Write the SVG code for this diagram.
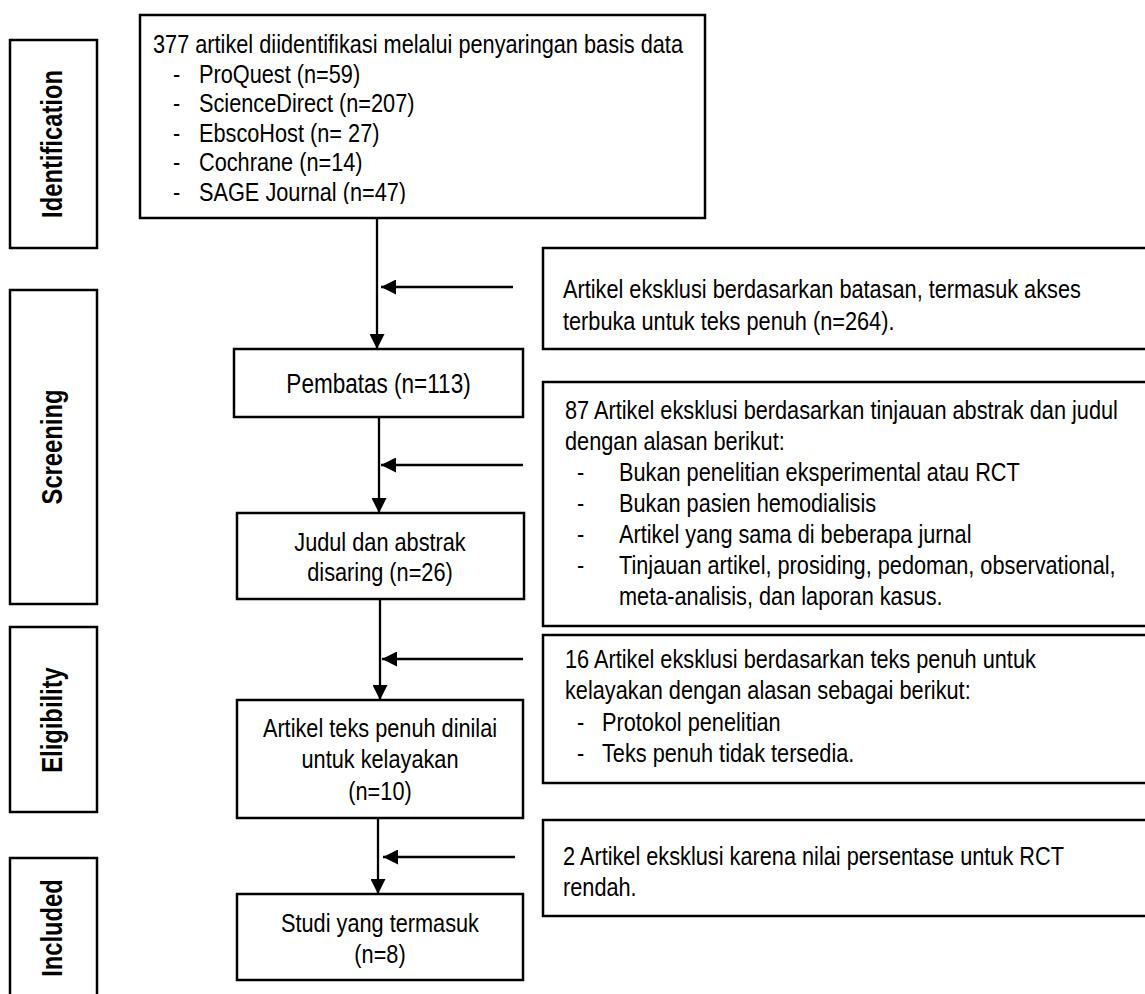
<svg xmlns="http://www.w3.org/2000/svg" width="1145" height="994" viewBox="0 0 1145 994">
<style>
.box{fill:#fff;stroke:#000;stroke-width:2.5}
.ln{stroke:#000;stroke-width:2.3;fill:none}
.t{font-family:"Liberation Sans",Arial,sans-serif;font-size:26.5px;fill:#000}
.c{text-anchor:middle}
.side{font-family:"Liberation Sans",Arial,sans-serif;font-size:29px;font-weight:bold;fill:#000;text-anchor:middle}
</style>
<defs>
<marker id="ah" markerUnits="userSpaceOnUse" markerWidth="15" markerHeight="15" refX="15" refY="7.5" orient="auto">
<path d="M0,0 L15,7.5 L0,15 z" fill="#000"/>
</marker>
<clipPath id="mclip"><rect x="140" y="15" width="570" height="189"/></clipPath>
</defs>
<rect width="1145" height="994" fill="#fff"/>

<g id="phase-identification">
<rect class="box" x="10" y="40" width="87" height="208"/>
<text class="side" transform="translate(62,144) rotate(-90) scale(0.82,1)">Identification</text>
</g>
<g id="phase-screening">
<rect class="box" x="10" y="290" width="87" height="314"/>
<text class="side" transform="translate(62,447) rotate(-90) scale(0.82,1)">Screening</text>
</g>
<g id="phase-eligibility">
<rect class="box" x="10" y="627" width="87" height="185"/>
<text class="side" transform="translate(62,720) rotate(-90) scale(0.82,1)">Eligibility</text>
</g>
<g id="phase-included">
<rect class="box" x="10" y="858" width="87" height="150"/>
<text class="side" transform="translate(62,928) rotate(-90) scale(0.82,1)">Included</text>
</g>

<g id="node-identified">
<rect class="box" x="140" y="15" width="565" height="203"/>
<g clip-path="url(#mclip)">
<text class="t" transform="matrix(0.82 0 0 1 153 53)">377 artikel diidentifikasi melalui penyaringan basis data</text>
<text class="t" transform="matrix(0.82 0 0 1 173 83)">-</text><text class="t" transform="matrix(0.82 0 0 1 199 83)">ProQuest (n=59)</text>
<text class="t" transform="matrix(0.82 0 0 1 173 112)">-</text><text class="t" transform="matrix(0.82 0 0 1 199 112)">ScienceDirect (n=207)</text>
<text class="t" transform="matrix(0.82 0 0 1 173 142)">-</text><text class="t" transform="matrix(0.82 0 0 1 199 142)">EbscoHost (n= 27)</text>
<text class="t" transform="matrix(0.82 0 0 1 173 171)">-</text><text class="t" transform="matrix(0.82 0 0 1 199 171)">Cochrane (n=14)</text>
<text class="t" transform="matrix(0.82 0 0 1 173 201)">-</text><text class="t" transform="matrix(0.82 0 0 1 199 201)">SAGE Journal (n=47)</text>
</g>
</g>

<g id="node-excluded-1">
<rect class="box" x="543" y="248" width="620" height="101"/>
<text class="t" transform="matrix(0.82 0 0 1 563 298)">Artikel eksklusi berdasarkan batasan, termasuk akses</text>
<text class="t" transform="matrix(0.82 0 0 1 563 330)">terbuka untuk teks penuh (n=264).</text>
</g>

<g id="node-pembatas">
<rect class="box" x="234" y="349" width="289" height="68"/>
<text class="t c" transform="matrix(0.82 0 0 1 378.5 393)" style="font-size:27.5px">Pembatas (n=113)</text>
</g>

<g id="node-excluded-2">
<rect class="box" x="543" y="382" width="620" height="244"/>
<text class="t" transform="matrix(0.82 0 0 1 565 419)">87 Artikel eksklusi berdasarkan tinjauan abstrak dan judul</text>
<text class="t" transform="matrix(0.82 0 0 1 565 450)">dengan alasan berikut:</text>
<text class="t" transform="matrix(0.82 0 0 1 577 481)">-</text><text class="t" transform="matrix(0.82 0 0 1 619 481)">Bukan penelitian eksperimental atau RCT</text>
<text class="t" transform="matrix(0.82 0 0 1 577 512)">-</text><text class="t" transform="matrix(0.82 0 0 1 619 512)">Bukan pasien hemodialisis</text>
<text class="t" transform="matrix(0.82 0 0 1 577 543)">-</text><text class="t" transform="matrix(0.82 0 0 1 619 543)">Artikel yang sama di beberapa jurnal</text>
<text class="t" transform="matrix(0.82 0 0 1 577 574)">-</text><text class="t" transform="matrix(0.82 0 0 1 619 574)">Tinjauan artikel, prosiding, pedoman, observational,</text>
<text class="t" transform="matrix(0.82 0 0 1 619 605)">meta-analisis, dan laporan kasus.</text>
</g>

<g id="node-screened">
<rect class="box" x="237" y="513" width="287" height="86"/>
<text class="t c" transform="matrix(0.82 0 0 1 380 551)">Judul dan abstrak</text>
<text class="t c" transform="matrix(0.82 0 0 1 380 581)">disaring (n=26)</text>
</g>

<g id="node-excluded-3">
<rect class="box" x="543" y="635" width="620" height="148"/>
<text class="t" transform="matrix(0.82 0 0 1 565 668)">16 Artikel eksklusi berdasarkan teks penuh untuk</text>
<text class="t" transform="matrix(0.82 0 0 1 565 699)">kelayakan dengan alasan sebagai berikut:</text>
<text class="t" transform="matrix(0.82 0 0 1 577 731)">-</text><text class="t" transform="matrix(0.82 0 0 1 602 731)">Protokol penelitian</text>
<text class="t" transform="matrix(0.82 0 0 1 577 762)">-</text><text class="t" transform="matrix(0.82 0 0 1 602 762)">Teks penuh tidak tersedia.</text>
</g>

<g id="node-fulltext">
<rect class="box" x="237" y="700" width="286" height="118"/>
<text class="t c" transform="matrix(0.82 0 0 1 380 737)">Artikel teks penuh dinilai</text>
<text class="t c" transform="matrix(0.82 0 0 1 380 768)">untuk kelayakan</text>
<text class="t c" transform="matrix(0.82 0 0 1 380 800)">(n=10)</text>
</g>

<g id="node-excluded-4">
<rect class="box" x="543" y="820" width="620" height="96"/>
<text class="t" transform="matrix(0.82 0 0 1 563 865)">2 Artikel eksklusi karena nilai persentase untuk RCT</text>
<text class="t" transform="matrix(0.82 0 0 1 563 896)">rendah.</text>
</g>

<g id="node-included">
<rect class="box" x="237" y="894" width="286" height="86"/>
<text class="t c" transform="matrix(0.82 0 0 1 380 932)">Studi yang termasuk</text>
<text class="t c" transform="matrix(0.82 0 0 1 380 963)">(n=8)</text>
</g>

<g id="connectors">
<line class="ln" x1="377" y1="218" x2="377" y2="349" marker-end="url(#ah)"/>
<line class="ln" x1="513" y1="287" x2="381" y2="287" marker-end="url(#ah)"/>
<line class="ln" x1="379" y1="417" x2="379" y2="513" marker-end="url(#ah)"/>
<line class="ln" x1="523" y1="465" x2="381" y2="465" marker-end="url(#ah)"/>
<line class="ln" x1="380" y1="599" x2="380" y2="700" marker-end="url(#ah)"/>
<line class="ln" x1="523" y1="659" x2="382" y2="659" marker-end="url(#ah)"/>
<line class="ln" x1="378" y1="818" x2="378" y2="894" marker-end="url(#ah)"/>
<line class="ln" x1="515" y1="857" x2="383" y2="857" marker-end="url(#ah)"/>
</g>
</svg>
